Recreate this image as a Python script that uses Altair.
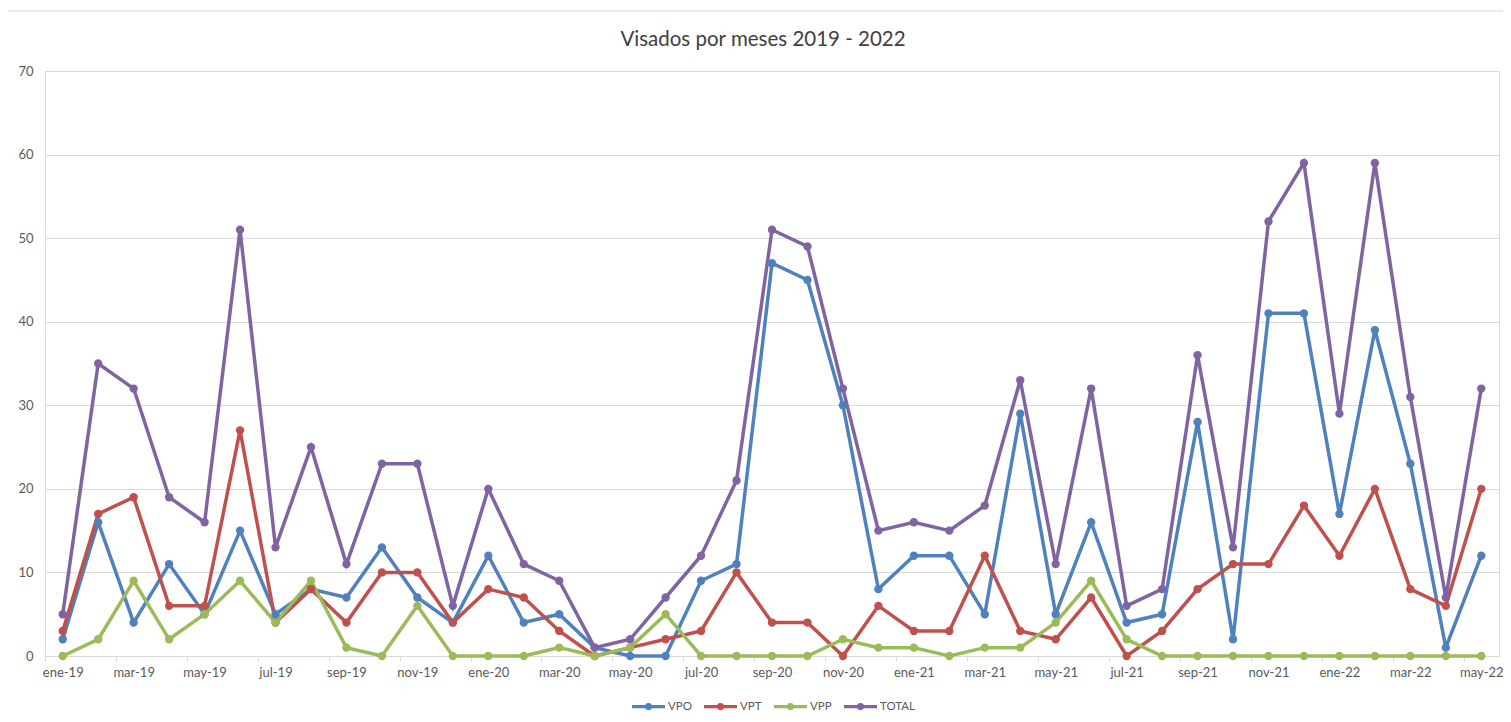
import altair as alt
import pandas as pd

months = ["ene-19","feb-19","mar-19","abr-19","may-19","jun-19","jul-19","ago-19","sep-19","oct-19","nov-19","dic-19",
          "ene-20","feb-20","mar-20","abr-20","may-20","jun-20","jul-20","ago-20","sep-20","oct-20","nov-20","dic-20",
          "ene-21","feb-21","mar-21","abr-21","may-21","jun-21","jul-21","ago-21","sep-21","oct-21","nov-21","dic-21",
          "ene-22","feb-22","mar-22","abr-22","may-22"]

vpo = [2,16,4,11,5,15,5,8,7,13,7,4,12,4,5,1,0,0,9,11,47,45,30,8,12,12,5,29,5,16,4,5,28,2,41,41,17,39,23,1,12]
vpt = [3,17,19,6,6,27,4,8,4,10,10,4,8,7,3,0,1,2,3,10,4,4,0,6,3,3,12,3,2,7,0,3,8,11,11,18,12,20,8,6,20]
vpp = [0,2,9,2,5,9,4,9,1,0,6,0,0,0,1,0,1,5,0,0,0,0,2,1,1,0,1,1,4,9,2,0,0,0,0,0,0,0,0,0,0]
total = [5,35,32,19,16,51,13,25,11,23,23,6,20,11,9,1,2,7,12,21,51,49,32,15,16,15,18,33,11,32,6,8,36,13,52,59,29,59,31,7,32]

series = ["VPO", "VPT", "VPP", "TOTAL"]
colors = ["#4F81BD", "#C0504D", "#9BBB59", "#8064A2"]
title_text = "Visados por meses 2019 - 2022"

rows = []
for name, vals in zip(series, [vpo, vpt, vpp, total]):
    for i, v in enumerate(vals):
        rows.append({"idx": i, "mes": months[i], "serie": name, "valor": v, "orden": series.index(name)})
df = pd.DataFrame(rows)

W = 1454
H = 585
n = len(months)
half = W / n / 2

FONT = "Lato"
label_js = "[" + ",".join("'%s'" % m for m in months) + "]"

x = alt.X("idx:Q",
          scale=alt.Scale(domain=[-0.5, n - 0.5], nice=False, zero=False),
          axis=alt.Axis(values=list(range(0, n, 2)), labelExpr=label_js + "[datum.value]",
                        title=None, grid=False, domain=True, domainColor="#d9d9d9", domainWidth=1,
                        ticks=True, tickColor="#d9d9d9", tickSize=5, tickOffset=-half, labelOffset=half,
                        labelFontSize=13, labelColor="#595959", labelFont=FONT, labelPadding=5,
                        labelFlush=False, labelOverlap=False))
y = alt.Y("valor:Q",
          scale=alt.Scale(domain=[0, 70], nice=False),
          axis=alt.Axis(values=list(range(0, 71, 10)), title=None, grid=True, gridColor="#d9d9d9",
                        domain=False, ticks=False, labelFontSize=13, labelColor="#595959", labelFont=FONT,
                        labelPadding=12))

legend_path = "M-1,0H1M-0.12,0a0.12,0.12 0 1,0 0.24,0a0.12,0.12 0 1,0 -0.24,0"

lines = alt.Chart(df).mark_line(
    strokeWidth=3.5,
    point=alt.OverlayMarkDef(size=70, filled=True, opacity=1),
).encode(
    x=x,
    y=y,
    color=alt.Color("serie:N", scale=alt.Scale(domain=series, range=colors),
                    legend=alt.Legend(title=None, orient="none", direction="horizontal",
                                      legendX=585, legendY=617,
                                      symbolType=legend_path, symbolSize=1089, symbolStrokeWidth=3.2,
                                      labelFontSize=11.5, labelColor="#595959", labelFont=FONT,
                                      labelOffset=1, columnPadding=5)),
    order=alt.Order("orden:Q"),
)

frame = alt.Chart(pd.DataFrame({"a": [0]})).mark_rect(
    fill="transparent", stroke="#d9d9d9", strokeWidth=1, clip=False
).encode(
    x=alt.value(-38), x2=alt.value(W + 200),
    y=alt.value(-60), y2=alt.value(H + 300),
)

title = alt.Chart(pd.DataFrame({"t": [title_text]})).mark_text(
    font=FONT, fontSize=20.5, color="#404040", align="center", baseline="alphabetic"
).encode(
    text="t:N", x=alt.value(718), y=alt.value(-25),
)

chart = alt.layer(frame, lines, title).properties(
    width=W, height=H,
    autosize=alt.AutoSizeParams(type="none"),
    padding={"left": 37, "top": 63, "right": 4, "bottom": 58},
).configure_view(stroke=None).configure(background="white")

chart.save("out.html", embed_options={"renderer": "svg", "actions": False})
